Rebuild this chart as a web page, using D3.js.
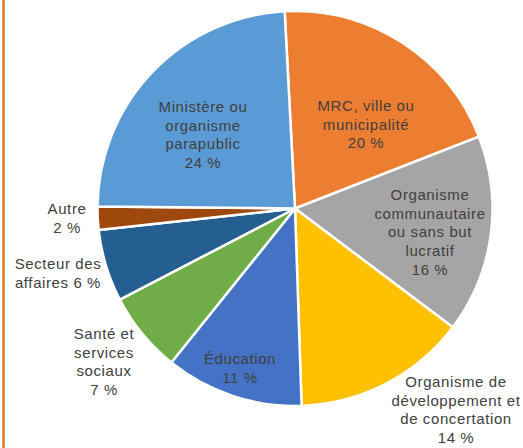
<html>
<head>
  <meta charset="utf-8">
  <title>Répartition</title>
  <script src="https://d3js.org/d3.v7.min.js"></script>
</head>
<style>
  body { margin: 0; background: #fff; }
  .lbl {
    font-family: "Liberation Sans", Arial, sans-serif;
    font-size: 15px;
    letter-spacing: 0.6px;
    fill: #404040;
  }
</style>
<body>
<svg id="pie" width="523" height="448"></svg>
<script>
  // data, clockwise from the top
  const categories = ["MRC, ville ou municipalité", "Organisme communautaire ou sans but lucratif",
    "Organisme de développement et de concertation", "Éducation", "Santé et services sociaux",
    "Secteur des affaires", "Autre", "Ministère ou organisme parapublic"];
  const values = [19.9, 16.2, 14.2, 11.3, 6.6, 5.9, 1.9, 24.0];
  const colors = ["#ED7D31", "#A5A5A5", "#FFC000", "#4472C4", "#70AD47", "#255E91", "#9E480E", "#5B9BD5"];
  // how each label is broken on lines ({p} = percentage)
  const labelLines = [
    ["MRC, ville ou", "municipalité", "{p}"],
    ["Organisme", "communautaire", "ou sans but", "lucratif", "{p}"],
    ["Organisme de", "développement et", "de concertation", "{p}"],
    ["Éducation", "{p}"],
    ["Santé et", "services", "sociaux", "{p}"],
    ["Secteur des", "affaires {p}"],
    ["Autre", "{p}"],
    ["Ministère ou", "organisme", "parapublic", "{p}"]
  ];
  // label placement: centre x and first baseline y
  const labelPos = [[366, 111], [430, 200], [456, 387], [240, 364], [104, 339], [58, 269], [67, 214], [203, 112]];

  const svg = d3.select("svg#pie");
  const cx = 295, cy = 208.5, radius = 197.5;
  const lineH = 18.7;
  const start = -3 * Math.PI / 180;

  // orange frame line on the left
  svg.append("line")
    .attr("x1", 3.5).attr("x2", 3.5)
    .attr("y1", 0).attr("y2", 448)
    .attr("stroke", "#E07B2A")
    .attr("stroke-width", 2.5);

  const pie = d3.pie().sort(null).startAngle(start).endAngle(start + 2 * Math.PI);
  const arc = d3.arc().innerRadius(0).outerRadius(radius);

  const g = svg.append("g").attr("transform", "translate(" + cx + "," + cy + ")");
  g.selectAll("path")
    .data(pie(values))
    .enter()
    .append("path")
    .attr("d", arc)
    .attr("fill", (d, i) => colors[i])
    .attr("stroke", "#fff")
    .attr("stroke-width", 2.5)
    .attr("stroke-linejoin", "round");

  const labels = svg.append("g");
  values.forEach((v, i) => {
    const pct = Math.round(v) + " %";
    const t = labels.append("text")
      .attr("class", "lbl")
      .attr("text-anchor", "middle")
      .attr("x", labelPos[i][0])
      .attr("y", labelPos[i][1]);
    labelLines[i].forEach((ln, k) => {
      t.append("tspan")
        .attr("x", labelPos[i][0])
        .attr("dy", k === 0 ? 0 : lineH)
        .text(ln.replace("{p}", pct));
    });
  });
</script>
</body>
</html>
